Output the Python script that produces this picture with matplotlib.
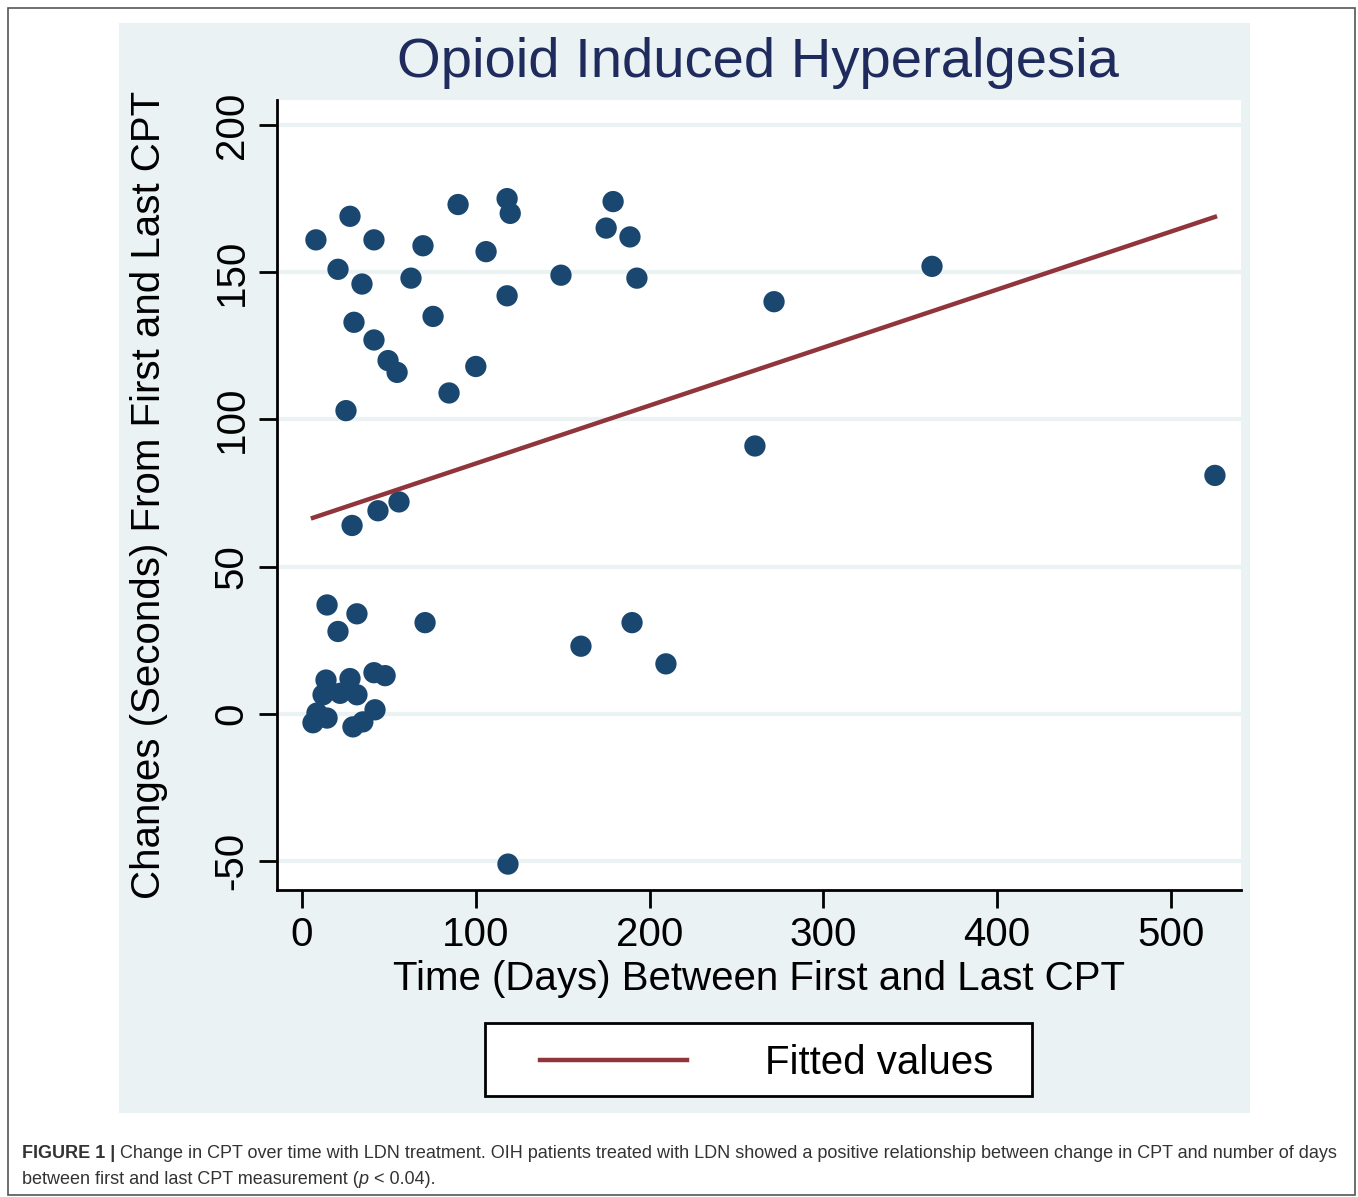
import matplotlib
matplotlib.use("Agg")
import matplotlib.pyplot as plt
import numpy as np
from matplotlib.patches import Rectangle
from matplotlib.lines import Line2D

# ---- data ----
days = [8, 27.6, 20.7, 34.5, 41.4, 29.9, 41.4, 49.5, 54.7, 25.3, 62.7, 69.6, 75.4,
        84.6, 89.8, 100, 105.9, 118, 119.8, 118, 149, 175, 179, 188.7, 192.7, 260.6,
        271.6, 362.5, 525.3, 28.8, 43.7, 55.8, 14.4, 31.6, 20.7, 70.8, 160.5, 189.9,
        209.4, 118.5, 13.8, 27.6, 12.1, 21.9, 31.6, 8.6, 6.3, 14.4, 29.3, 35, 42,
        41.4, 47.8]
change = [161, 169, 151, 146, 161, 133, 127, 120, 116, 103, 148, 159, 135, 109, 173,
          118, 157, 175, 170, 142, 149, 165, 174, 162, 148, 91, 140, 152, 81, 64, 69,
          72, 37, 34, 28, 31, 23, 31, 17, -51, 11.5, 12, 6.5, 7, 6.5, 0.3, -3, -1.4,
          -4.4, -2.7, 1.4, 14, 13]
fit_days = [6.3, 525.3]
fit_change = [66.6, 168.8]
x_ticks = [0, 100, 200, 300, 400, 500]
y_ticks = [-50, 0, 50, 100, 150, 200]

title = "Opioid Induced Hyperalgesia"
xlabel = "Time (Days) Between First and Last CPT"
ylabel = "Changes (Seconds) From First and Last CPT"
legend_label = "Fitted values"
caption_bold = "FIGURE 1 |"
caption_1 = " Change in CPT over time with LDN treatment. OIH patients treated with LDN showed a positive relationship between change in CPT and number of days"
caption_2 = "between first and last CPT measurement ("

W, H = 1358, 1197
BG = "#eaf2f3"
NAVY = "#1a476f"
MAROON = "#90353b"
TITLEC = "#1e2b5c"

plt.rcParams["font.family"] = ["Liberation Sans", "DejaVu Sans"]
plt.rcParams["axes.unicode_minus"] = False

fig = plt.figure(figsize=(W / 100, H / 100), dpi=100)
fig.patch.set_facecolor("white")

def fx(px):
    return px / W

def fy(py):
    return 1 - py / H

# outer border
fig.patches.append(Rectangle((fx(8), fy(1195)), fx(1355) - fx(8), fy(8) - fy(1195),
                             transform=fig.transFigure, fill=False,
                             edgecolor="#555555", linewidth=1.2, zorder=-3))
# graph region
fig.patches.append(Rectangle((fx(119), fy(1113)), fx(1250) - fx(119), fy(23) - fy(1113),
                             transform=fig.transFigure, facecolor=BG,
                             edgecolor="none", zorder=-2))
# legend frame
fig.patches.append(Rectangle((fx(485), fy(1096)), fx(1032) - fx(485), fy(1023) - fy(1096),
                             transform=fig.transFigure, facecolor="white",
                             edgecolor="black", linewidth=2, zorder=-1))

ax = fig.add_axes([fx(277), fy(890), fx(1241) - fx(277), fy(100) - fy(890)])
ax.set_facecolor("white")
ax.set_xlim(-14.4, 540.3)
ax.set_ylim(-59.8, 208.5)

for yv in y_ticks:
    ax.axhline(yv, color=BG, linewidth=3, zorder=1)

ax.scatter(days, change, s=235, color=NAVY, edgecolors="none", zorder=3)
ax.plot(fit_days, fit_change, color=MAROON, linewidth=3.2, zorder=4, label=legend_label)

for side in ["top", "right"]:
    ax.spines[side].set_visible(False)
for side in ["left", "bottom"]:
    ax.spines[side].set_linewidth(2)
    ax.spines[side].set_color("black")

ax.set_xticks(x_ticks)
ax.set_yticks(y_ticks)
ax.tick_params(axis="both", direction="out", length=13, width=2, labelsize=29, pad=6)
for lab in ax.get_yticklabels():
    lab.set_rotation(90)
    lab.set_va("center")

ax.set_xlabel(xlabel, fontsize=29, labelpad=4)
ax.set_ylabel(ylabel, fontsize=29, labelpad=32)

fig.text(fx(758), fy(63), title, fontsize=40.5, color=TITLEC,
         ha="center", va="center")

leg = fig.legend(handles=[Line2D([], [], color=MAROON, linewidth=3.2)], labels=[legend_label],
                 loc="center left", bbox_to_anchor=(fx(540), fy(1063)), fontsize=29,
                 handlelength=3.65, handletextpad=1.94, borderpad=0, borderaxespad=0,
                 frameon=False)

cap_font = ["Liberation Sans Narrow", "Liberation Sans", "DejaVu Sans"]
fig.canvas.draw()
r = fig.canvas.get_renderer()
fs = 13
t1 = fig.text(fx(22), fy(1154), caption_bold, fontsize=fs, fontweight="bold",
              family=cap_font, color="#333333", va="center", ha="left")
bb = t1.get_window_extent(r)
fig.text(bb.x1 / W, fy(1154), caption_1, fontsize=fs, family=cap_font,
         color="#333333", va="center", ha="left")
t3 = fig.text(fx(22), fy(1179), caption_2, fontsize=fs, family=cap_font,
              color="#333333", va="center", ha="left")
bb3 = t3.get_window_extent(r)
t4 = fig.text(bb3.x1 / W, fy(1179), "p", fontsize=fs, family=cap_font, style="italic",
              color="#333333", va="center", ha="left")
bb4 = t4.get_window_extent(r)
fig.text(bb4.x1 / W, fy(1179), " < 0.04).", fontsize=fs, family=cap_font,
         color="#333333", va="center", ha="left")

fig.savefig("out.png", dpi=100)
